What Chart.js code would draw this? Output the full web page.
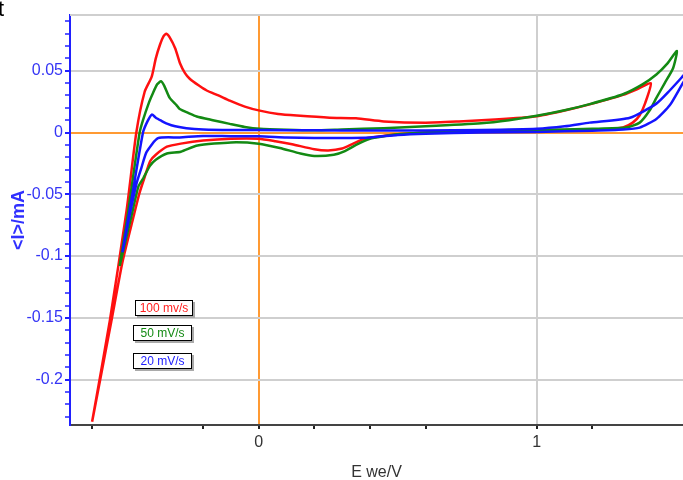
<!DOCTYPE html>
<html lang="en">
  <head>
    <meta charset="UTF-8" />
    <title>Cyclic voltammograms</title>
    <script src="https://cdn.jsdelivr.net/npm/chart.js"></script>
    <style>
      body {
        margin: 0;
        background: #fff;
        font-family: "Liberation Sans", Arial, sans-serif;
      }
      .wrap {
        position: relative;
        width: 683px;
        height: 480px;
        overflow: hidden;
      }
      .corner {
        position: absolute;
        left: -2px;
        top: -4px;
        font-size: 22px;
        color: #000;
      }
      /* scan-rate labels */
      .tag {
        position: absolute;
        height: 14px;
        line-height: 14px;
        font-size: 12px;
        text-align: center;
        background: #fff;
        border: 1.5px solid #000;
        box-shadow: 2px 2px 0 #aaa;
      }
    </style>
  </head>
  <body>
    <div class="wrap">
      <canvas id="cv"></canvas>
      <div class="corner">t</div>
      <div class="tag" style="left:135px;top:300px;width:56px;color:#ff2020">100 mv/s</div>
      <div class="tag" style="left:133px;top:325px;width:57px;color:#138a13">50 mV/s</div>
      <div class="tag" style="left:133px;top:353px;width:57px;color:#2020ff">20 mV/s</div>
    </div>

    <script>
      // 100 mV/s loop: forward sweep then return sweep
      const redE = [-0.599, -0.535, -0.475, -0.44, -0.41, -0.385, -0.37, -0.355, -0.342, -0.332, -0.32, -0.30, -0.283,
        -0.265, -0.248, -0.215, -0.187, -0.145, -0.104, -0.05, 0.004, 0.07, 0.137, 0.255, 0.35, 0.45, 0.6, 0.72, 0.85,
        1.0, 1.1, 1.19, 1.31, 1.36, 1.41,
        1.39, 1.37, 1.345, 1.31, 1.25, 1.1, 0.96, 0.8, 0.6, 0.5, 0.44, 0.38, 0.34, 0.3, 0.25, 0.2, 0.12, 0.06, 0.0,
        -0.1, -0.2, -0.28, -0.33, -0.37, -0.39, -0.41, -0.43, -0.45, -0.49, -0.53, -0.57, -0.599];
      const redI = [-0.234, -0.152, -0.063, 0.0, 0.033, 0.045, 0.060, 0.071, 0.078, 0.080, 0.077, 0.068, 0.056,
        0.048, 0.0435, 0.038, 0.034, 0.030, 0.0258, 0.021, 0.0177, 0.015, 0.0137, 0.012, 0.0115, 0.009, 0.008, 0.009, 0.0105,
        0.0132, 0.0178, 0.0228, 0.0305, 0.035, 0.040,
        0.024, 0.014, 0.008, 0.004, 0.0025, 0.002, 0.0016, 0.001, 0.0, -0.0015, -0.003, -0.005, -0.009, -0.013, -0.0145,
        -0.0135, -0.0095, -0.007, -0.005, -0.005, -0.0065, -0.009, -0.0115, -0.018, -0.023, -0.036, -0.05, -0.068,
        -0.105, -0.153, -0.2, -0.234];

      // 50 mV/s loop
      const greenE = [-0.50, -0.47, -0.448, -0.428, -0.416, -0.395, -0.38, -0.365, -0.351, -0.34, -0.32, -0.295, -0.284,
        -0.25, -0.223, -0.165, -0.104, -0.05, 0.004, 0.1, 0.2, 0.3, 0.45, 0.6, 0.8, 0.9, 1.0, 1.1, 1.19, 1.31, 1.38,
        1.43, 1.47, 1.504,
        1.49, 1.46, 1.43, 1.406, 1.37, 1.32, 1.2, 1.0, 0.8, 0.6, 0.5, 0.45, 0.4, 0.35, 0.31, 0.27, 0.2, 0.15, 0.076,
        0.0, -0.1, -0.22, -0.28, -0.33, -0.37, -0.391, -0.415, -0.433, -0.46, -0.50];
      const greenI = [-0.108, -0.065, -0.030, 0.0, 0.010, 0.024, 0.032, 0.039, 0.0415, 0.038, 0.028, 0.022, 0.019,
        0.0155, 0.013, 0.010, 0.007, 0.0045, 0.003, 0.0022, 0.0018, 0.0025, 0.0035, 0.005, 0.0075, 0.010, 0.0135, 0.018,
        0.023, 0.031, 0.039, 0.047, 0.056, 0.066,
        0.052, 0.040, 0.028, 0.018, 0.008, 0.004, 0.003, 0.002, 0.001, 0.0, -0.0015, -0.003, -0.005, -0.010, -0.015,
        -0.018, -0.019, -0.017, -0.0125, -0.009, -0.008, -0.0105, -0.0155, -0.017, -0.022, -0.027, -0.037, -0.044,
        -0.07, -0.108];

      // 20 mV/s loop (turns just past the right edge)
      const blueE = [-0.49, -0.452, -0.416, -0.40, -0.384, -0.37, -0.35, -0.33, -0.30, -0.26, -0.2, -0.1, 0.0, 0.2,
        0.4, 0.6, 0.8, 1.0, 1.1, 1.19, 1.335, 1.43, 1.478, 1.52, 1.57,
        1.52, 1.478, 1.43, 1.37, 1.31, 1.2, 1.0, 0.8, 0.6, 0.5, 0.4, 0.3, 0.2, 0.1, 0.0, -0.1, -0.2, -0.284, -0.362,
        -0.403, -0.421, -0.439, -0.465, -0.49];
      const blueI = [-0.097, -0.047, 0.0, 0.009, 0.0145, 0.012, 0.0095, 0.0072, 0.005, 0.0035, 0.0025, 0.002, 0.002,
        0.0018, 0.0016, 0.0016, 0.002, 0.003, 0.005, 0.008, 0.012, 0.0234, 0.034, 0.0443, 0.057,
        0.038, 0.022, 0.011, 0.004, 0.0024, 0.0015, 0.0005, 0.0, -0.001, -0.002, -0.004, -0.0045, -0.0045, -0.004,
        -0.003, -0.003, -0.0028, -0.004, -0.0046, -0.0157, -0.028, -0.041, -0.068, -0.097];

      // labelled ticks
      const xLabelled = [0, 1];
      const yLabelled = [0.05, 0, -0.05, -0.1, -0.15, -0.2];
      const xHiddenTicks = [-0.4, 0.8, 1.4];

      const near = (v, list) => list.some(t => Math.abs(v - t) < 1e-6);
      const pts = (xs, ys) => xs.map((x, i) => ({ x: x, y: ys[i] }));

      const topLine = {
        id: 'topLine',
        beforeDatasetsDraw(chart) {
          const { ctx, chartArea: a } = chart;
          ctx.save();
          ctx.strokeStyle = '#cfcfcf';
          ctx.lineWidth = 2;
          ctx.beginPath();
          ctx.moveTo(a.left, a.top);
          ctx.lineTo(a.right, a.top);
          ctx.stroke();
          ctx.restore();
        }
      };

      const line = (data, color) => ({
        data: data,
        showLine: true,
        borderColor: color,
        backgroundColor: color,
        borderWidth: 2.5,
        pointRadius: 0,
        tension: 0.2,
        fill: false
      });

      new Chart(document.getElementById('cv'), {
        type: 'scatter',
        data: {
          // first dataset is drawn on top
          datasets: [
            line(pts(blueE, blueI), '#1414ff'),
            line(pts(greenE, greenI), '#138a13'),
            line(pts(redE, redI), '#ff1010')
          ]
        },
        options: {
          responsive: true,
          maintainAspectRatio: false,
          animation: false,
          layout: { padding: { top: 15, right: 0, left: 0, bottom: 0 } },
          plugins: { legend: { display: false }, tooltip: { enabled: false } },
          scales: {
            x: {
              type: 'linear',
              min: -0.6785,
              max: 1.5257,
              afterFit: s => { s.height = 55; },
              border: { color: '#444', width: 2 },
              grid: {
                color: c => c.tick && Math.abs(c.tick.value) < 1e-6 ? '#ff9a33'
                  : (c.tick && Math.abs(c.tick.value - 1) < 1e-6 ? '#cfcfcf' : 'rgba(0,0,0,0)'),
                lineWidth: 2,
                tickColor: c => c.tick && near(c.tick.value, xHiddenTicks) ? 'rgba(0,0,0,0)' : '#222',
                tickLength: 4
              },
              ticks: {
                stepSize: 0.2,
                autoSkip: false,
                includeBounds: false,
                maxRotation: 0,
                padding: 4,
                color: '#333',
                font: { family: 'Liberation Sans, Arial', size: 16 },
                callback: v => near(v, xLabelled) ? String(Math.round(v)) : ''
              },
              title: {
                display: true,
                text: 'E we/V',
                color: '#333',
                font: { family: 'Liberation Sans, Arial', size: 16 },
                padding: { top: 0, bottom: -2 }
              }
            },
            y: {
              type: 'linear',
              min: -0.2367,
              max: 0.0951,
              afterFit: s => { s.width = 70; },
              border: { color: '#2020ff', width: 2 },
              grid: {
                color: c => c.tick && Math.abs(c.tick.value) < 1e-6 ? '#ff9a33'
                  : (c.tick && near(c.tick.value, yLabelled) ? '#cfcfcf' : 'rgba(0,0,0,0)'),
                lineWidth: 2,
                tickColor: '#2020ff',
                tickWidth: c => c.tick && near(c.tick.value, yLabelled) ? 2 : 1.5,
                tickLength: 5
              },
              ticks: {
                stepSize: 0.01,
                autoSkip: false,
                includeBounds: false,
                padding: 2,
                color: '#3535f5',
                font: { family: 'Liberation Sans, Arial', size: 16 },
                callback: v => near(v, yLabelled) ? String(parseFloat(v.toFixed(2))) : ''
              },
              title: {
                display: true,
                text: '<I>/mA',
                color: '#3030ff',
                font: { family: 'Liberation Sans, Arial', size: 18, weight: 'bold' },
                padding: { top: 8, bottom: 0 }
              }
            }
          }
        },
        plugins: [topLine]
      });
    </script>
  </body>
</html>
